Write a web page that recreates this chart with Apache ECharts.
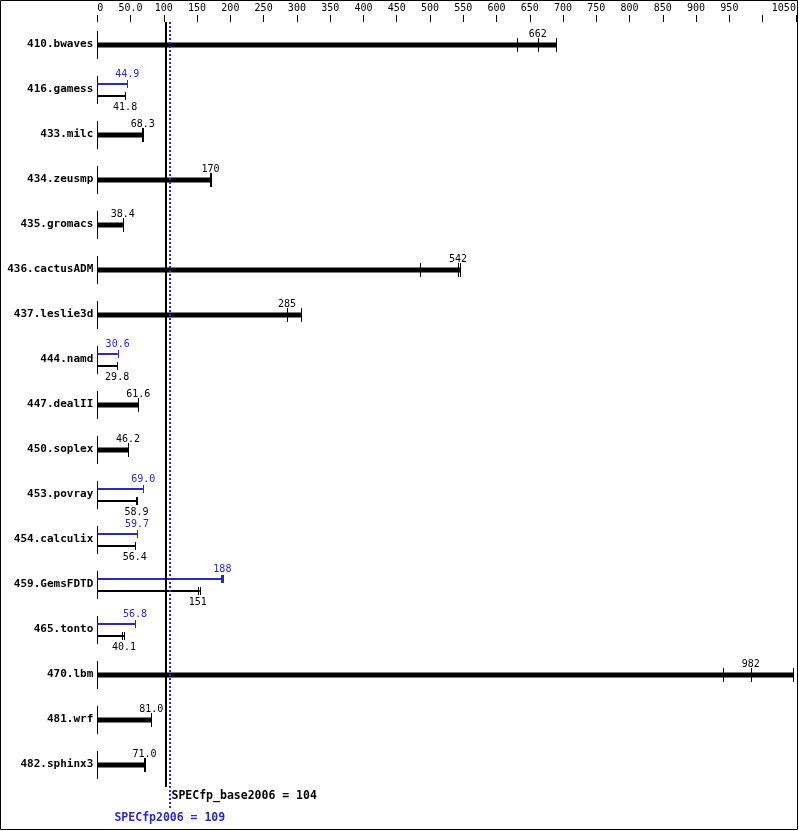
<!DOCTYPE html>
<html>
<head>
<meta charset="utf-8">
<script src="https://cdn.jsdelivr.net/npm/echarts@6/dist/echarts.min.js"></script>
<style>
html,body{margin:0;padding:0;background:#fff;}
#chart{width:799px;height:831px;}
</style>
</head>
<body>
<div id="chart"></div>
<script>
// ---- data ----
const benchmarks = ['410.bwaves','416.gamess','433.milc','434.zeusmp','435.gromacs','436.cactusADM','437.leslie3d','444.namd','447.dealII','450.soplex','453.povray','454.calculix','459.GemsFDTD','465.tonto','470.lbm','481.wrf','482.sphinx3'];
const baseMedian = [662, 41.8, 68.3, 170, 38.4, 542, 285, 29.8, 61.6, 46.2, 58.9, 56.4, 151, 40.1, 982, 81.0, 71.0];
const baseMin    = [631, 41.6, 67.6, 169.5, 38.2, 485, 285, 29.7, 61.3, 46.0, 58.7, 56.2, 151, 37.6, 940, 80.6, 70.7];
const baseMax    = [690, 42.0, 69.0, 170.5, 38.5, 545, 306, 29.9, 61.8, 46.4, 59.1, 56.6, 154, 40.6, 1046, 81.3, 71.3];
const peakMedian = [null, 44.9, null, null, null, null, null, 30.6, null, null, 69.0, 59.7, 188, 56.8, null, null, null];
const peakMin    = [null, 44.7, null, null, null, null, null, 30.5, null, null, 68.8, 59.5, 186, 56.6, null, null, null];
const peakMax    = [null, 45.1, null, null, null, null, null, 30.7, null, null, 69.2, 59.9, 189, 57.0, null, null, null];
const xTickLabels = ['0','50.0','100','150','200','250','300','350','400','450','500','550','600','650','700','750','800','850','900','950','','1050'];
const refValues = [104, 109];
const refLabels = ['SPECfp_base2006 = 104', 'SPECfp2006 = 109'];

// ---- styles ----
const BLUE = '#2b2bb3';
const MONO = '"DejaVu Sans Mono", "Liberation Mono", monospace';
const fmt = v => v >= 100 ? v.toFixed(0) : v.toFixed(1);
const px = v => Math.round(v) + 0.5;

function vline(x, y1, y2, color, w) {
  return {type:'line', shape:{x1:px(x), y1:y1, x2:px(x), y2:y2}, style:{stroke:color, lineWidth:w||1}};
}
function label(x, y, text, color, align) {
  return {type:'text', x:x, y:y, style:{text:text, fill:color, font:'10px ' + MONO, align:align||'center', verticalAlign:'middle'}};
}

function renderBench(params, api) {
  const i = params.dataIndex;
  const c0 = api.coord([0, i]);
  const x0 = c0[0], y = Math.round(c0[1]);
  const ch = [];
  ch.push(vline(x0, y - 14, y + 14, '#000', 1));
  if (peakMedian[i] == null) {
    const xMax = api.coord([baseMax[i], i])[0];
    ch.push({type:'rect', shape:{x:x0, y:y - 2.5, width:xMax - x0, height:5}, style:{fill:'#000'}});
    [baseMin[i], baseMedian[i], baseMax[i]].forEach(v => {
      ch.push(vline(api.coord([v, i])[0], y - 7, y + 7, '#000', 1));
    });
    ch.push(label(api.coord([baseMedian[i], i])[0], y - 11, fmt(baseMedian[i]), '#000'));
  } else {
    const yp = y - 6, yb = y + 6;
    const xpMax = api.coord([peakMax[i], i])[0];
    ch.push({type:'rect', shape:{x:x0, y:yp - 1, width:xpMax - x0, height:2}, style:{fill:BLUE}});
    [peakMin[i], peakMedian[i], peakMax[i]].forEach(v => {
      ch.push(vline(api.coord([v, i])[0], yp - 4, yp + 4, BLUE, 1));
    });
    const xbMax = api.coord([baseMax[i], i])[0];
    ch.push({type:'rect', shape:{x:x0, y:yb - 1, width:xbMax - x0, height:2}, style:{fill:'#000'}});
    [baseMin[i], baseMedian[i], baseMax[i]].forEach(v => {
      ch.push(vline(api.coord([v, i])[0], yb - 4, yb + 4, '#000', 1));
    });
    ch.push(label(api.coord([peakMedian[i], i])[0], y - 16, fmt(peakMedian[i]), BLUE));
    ch.push(label(api.coord([baseMedian[i], i])[0], y + 17, fmt(baseMedian[i]), '#000'));
  }
  return {type:'group', children:ch};
}

function renderRef(params, api) {
  const i = params.dataIndex;
  const cs = params.coordSys;
  const x = api.coord([refValues[i], 0])[0];
  const top = cs.y;
  const bottom = cs.y + cs.height;
  if (i === 0) {
    return {type:'group', children:[
      {type:'rect', shape:{x:Math.round(x) - 1, y:top, width:2, height:bottom - top}, style:{fill:'#000'}},
      {type:'text', x:x + 5, y:bottom + 9, style:{text:refLabels[i], fill:'#000', font:'bold 11.5px ' + MONO, align:'left', verticalAlign:'middle'}}
    ]};
  }
  return {type:'group', children:[
    {type:'line', shape:{x1:Math.round(x), y1:top, x2:Math.round(x), y2:bottom + 22}, style:{stroke:BLUE, lineWidth:2, lineDash:[2,2]}},
    {type:'text', x:x, y:bottom + 31, style:{text:refLabels[i], fill:BLUE, font:'bold 11.5px ' + MONO, align:'center', verticalAlign:'middle'}}
  ]};
}

const chart = echarts.init(document.getElementById('chart'), null, {renderer:'canvas'});
chart.setOption({
  animation: false,
  backgroundColor: '#fff',
  grid: {left: 97.3, right: 3.1, top: 22, bottom: 44, containLabel: false},
  xAxis: {
    type: 'value', position: 'top', min: 0, max: 1050, interval: 50,
    axisLine: {show: false},
    axisTick: {show: true, length: 7, lineStyle: {color: '#000', width: 1}},
    splitLine: {show: false},
    axisLabel: {
      color: '#000', fontFamily: MONO, fontSize: 10, margin: 9,
      alignMinLabel: 'left', alignMaxLabel: 'right',
      formatter: v => xTickLabels[Math.round(v / 50)]
    }
  },
  yAxis: {
    type: 'category', data: benchmarks, inverse: true,
    axisLine: {show: false}, axisTick: {show: false}, splitLine: {show: false},
    axisLabel: {color: '#000', fontFamily: MONO, fontSize: 11, fontWeight: 'bold', margin: 4}
  },
  series: [
    {type: 'custom', name: 'bench', renderItem: renderBench, clip: false,
     data: benchmarks.map((b, i) => [baseMax[i], i])},
    {type: 'custom', name: 'refs', renderItem: renderRef, clip: false, z: 3,
     data: refValues.map(v => [v, 0])}
  ],
  graphic: [{type: 'rect', shape: {x: 0.5, y: 0.5, width: 797, height: 829}, style: {fill: null, stroke: '#000', lineWidth: 1}, z: 100}]
});
</script>
</body>
</html>
